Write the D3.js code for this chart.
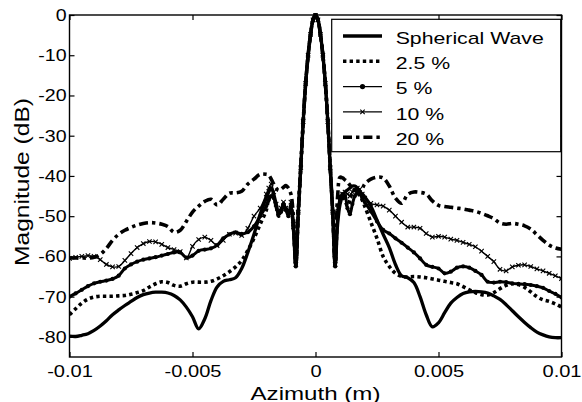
<!DOCTYPE html>
<html><head><meta charset="utf-8">
<script src="https://cdn.jsdelivr.net/npm/d3@7"></script>
<style>
body{margin:0;background:#fff}
svg{display:block}
text{font-family:"Liberation Sans",Arial,Helvetica,sans-serif;fill:#000}
</style>
</head><body>
<svg id="chart" width="582" height="402"></svg>
<script>
// ---------- data ----------
const azimuth = [
 -0.01,-0.00975,-0.0095,-0.00925,-0.009,-0.00875,-0.0085,-0.00825,-0.008,-0.00775,-0.0075,-0.00725,-0.007,-0.00675,-0.0065,-0.00625,-0.006,-0.00575,-0.0055,-0.00525,-0.005,-0.00475,-0.0045,-0.00425,-0.004,-0.00375,-0.0035,-0.00325,-0.003,-0.00275,-0.0025,-0.00225,-0.002,
 -0.0019,-0.0018,-0.0017,-0.0016,-0.0015,-0.0014,-0.0013,-0.0012,-0.0011,-0.001,-0.0009,-0.0008,
 -0.0007,-0.0006,-0.0005,-0.0004,-0.0003,-0.0002,-0.0001,0,0.0001,0.0002,0.0003,0.0004,0.0005,0.0006,0.0007,
 0.0008,0.0009,0.001,0.0011,0.0012,0.0013,0.0014,0.0015,0.0016,0.0017,0.0018,0.0019,
 0.002,0.00225,0.0025,0.00275,0.003,0.00325,0.0035,0.00375,0.004,0.00425,0.0045,0.00475,0.005,0.00525,0.0055,0.00575,0.006,0.00625,0.0065,0.00675,0.007,0.00725,0.0075,0.00775,0.008,0.00825,0.0085,0.00875,0.009,0.00925,0.0095,0.00975,0.01
];
const sphericalWave = [
 -79.8,-79.9,-79.6,-79.2,-78.4,-77.3,-76,-74.5,-73.3,-72.2,-71.2,-70.2,-69.5,-69.1,-68.9,-68.9,-69.1,-69.7,-70.8,-72.6,-75,-78,-75.5,-71,-67.6,-66.2,-65.8,-65.3,-63,-59,-54.5,-49.5,-45.5,
 -44,-43,-44.5,-47,-49.5,-49,-47.5,-48,-49,-48,-53,-62.5,
 -49,-38,-26.5,-17,-10,-4.8,-1.2,0,-1.2,-4.8,-10,-17,-26.5,-38,-49,
 -62.5,-52,-47,-45,-44,-43.5,-43,-42.5,-42.5,-43,-44,-44.5,
 -45.2,-47.5,-51,-54.5,-57.8,-62,-64.8,-65.3,-66.5,-70,-74.5,-77.5,-76.5,-74,-71.6,-70.2,-69.2,-68.8,-68.7,-68.8,-69.1,-69.8,-70.7,-72,-73.5,-75,-76.4,-77.7,-78.8,-79.5,-80,-80.2,-80.2
];
const error2p5 = [
 -74.5,-73,-71.6,-70.6,-70.1,-69.9,-69.9,-69.9,-69.8,-69.7,-69.4,-69,-68.5,-67.6,-66.8,-66.3,-66.5,-67.2,-67.4,-66.8,-66.4,-66.4,-66.4,-66.2,-65.6,-64.8,-63.8,-62.6,-61,-58.5,-55.5,-52,-48.5,
 -45.5,-44.5,-45.5,-47.5,-50,-49,-47,-48.5,-49.5,-47.5,-52.5,-62,
 -49,-38,-26.5,-17,-10,-4.8,-1.2,0,-1.2,-4.8,-10,-17,-26.5,-38,-49,
 -62,-50,-46,-45,-46,-47.5,-46,-44,-43.5,-44,-45,-46,
 -47.5,-51.5,-55.5,-60,-62.5,-64.2,-65,-65.1,-65,-65.1,-65.3,-65.6,-65.9,-66.2,-66.5,-66.8,-67.5,-68.3,-69,-69.5,-69.6,-69,-68,-67.2,-66.8,-67,-67.7,-68.8,-70,-70.8,-71.2,-71.8,-72.6
];
const error5 = [
 -70,-69.2,-68.3,-67.4,-66.7,-66.3,-66,-65.6,-64.8,-63,-62,-61.3,-60.8,-60.5,-60.2,-59.8,-59.4,-59,-59,-60.3,-59.8,-58.6,-58.3,-58,-57.2,-55.5,-54.5,-54,-54.4,-54,-52.5,-50,-47.5,
 -46,-45,-45.5,-47.5,-49.5,-48.5,-47,-48.5,-50,-47.5,-53,-62.5,
 -49,-38,-26.5,-17,-10,-4.8,-1.2,0,-1.2,-4.8,-10,-17,-26.5,-38,-49,
 -62.5,-50,-46,-44.5,-45,-48,-49.5,-47,-45,-44.3,-44.5,-45.5,
 -46.5,-48.8,-51.3,-53.4,-54.3,-55.5,-56.6,-57.8,-59,-60.5,-62.1,-62.6,-63,-64.2,-63.8,-62.8,-62.5,-62.8,-63.6,-64.6,-66.3,-66.5,-66.3,-66.4,-66.7,-66.8,-66.9,-67.1,-67.4,-67.8,-68.6,-69.3,-70.2
];
const error10 = [
 -60.5,-60.2,-60,-59.8,-60,-60.8,-62,-62.6,-62.5,-61,-59.3,-57.8,-56.8,-56.3,-56.4,-57,-57.8,-58.3,-58.8,-60.4,-57.5,-55.8,-55.2,-56,-57.3,-56,-54.5,-54.2,-54.8,-53,-50,-48,-44.5,
 -43,-42,-44,-47,-49,-48,-46.5,-48,-49,-46.5,-52,-62,
 -49,-38,-26.5,-17,-10,-4.8,-1.2,0,-1.2,-4.8,-10,-17,-26.5,-38,-49,
 -62,-48,-45,-44.5,-44,-44.5,-45,-44,-43.5,-43,-43.3,-44.5,
 -45.5,-46.8,-47.2,-47.5,-48.5,-50,-51.5,-52.7,-52.7,-53,-54.3,-55.2,-55,-55.2,-55.7,-56,-56.5,-57,-57.6,-58.7,-60,-61.3,-63.2,-63.6,-62.6,-62.2,-62.1,-62.5,-63.1,-63.6,-64.2,-64.8,-65.5
];
const error20 = [
 -60.4,-60.4,-60.4,-60.4,-60.2,-59.5,-58,-56,-54.5,-53.5,-52.8,-52.2,-51.8,-51.6,-51.7,-52,-52.6,-54,-53.5,-51.3,-49,-47.5,-46.3,-45.8,-47.2,-45.8,-44.3,-44.2,-43.8,-42,-40.8,-39.6,-39.6,
 -39.8,-40.8,-42,-43,-43.6,-43.3,-42.8,-42.4,-43,-44.5,-50,-62,
 -49,-38,-26.5,-17,-10,-4.8,-1.2,0,-1.2,-4.8,-10,-17,-26.5,-38,-49,
 -62,-45,-40.3,-40.5,-41,-41.5,-42.3,-43,-43.5,-44,-44,-43.2,
 -42,-40.8,-40.3,-40.5,-42.5,-45.5,-46.8,-44.6,-44,-44.1,-44.5,-46.2,-47.3,-47.6,-47.8,-48,-48.2,-48.5,-48.8,-49.3,-49.9,-50.6,-51.7,-52,-51.8,-52,-52.4,-53.2,-54.6,-56,-57.2,-57.9,-58.2
];
const seriesNames = ["Spherical Wave", "2.5 %", "5 %", "10 %", "20 %"];
const xTickValues = [-0.01, -0.005, 0, 0.005, 0.01];
const xTickLabels = ["-0.01", "-0.005", "0", "0.005", "0.01"];
const yTickValues = [0, -10, -20, -30, -40, -50, -60, -70, -80];
const yTickLabels = ["0", "-10", "-20", "-30", "-40", "-50", "-60", "-70", "-80"];
const xTitle = "Azimuth (m)";
const yTitle = "Magnitude (dB)";

// ---------- styles ----------
const seriesValues = [sphericalWave, error2p5, error5, error10, error20];
const styles = [
  {w: 3.3, dash: null, marker: null},
  {w: 3.6, dash: "3.4,3.2", marker: null},
  {w: 3.0, dash: null, marker: "dot"},
  {w: 1.4, dash: null, marker: "cross"},
  {w: 3.6, dash: "9,4,3.4,4", marker: null}
];

const svg = d3.select("#chart");
const L = 69.5, R = 561.5, T = 15, B = 357;
const x = d3.scaleLinear().domain([-0.01, 0.01]).range([L, R]);
const y = d3.scaleLinear().domain([-85, 0]).range([B, T]);

function stretch(sel, f) {
  sel.each(function () {
    const w = this.getComputedTextLength();
    this.setAttribute("textLength", w * f);
    this.setAttribute("lengthAdjust", "spacingAndGlyphs");
  });
}

svg.append("defs").append("clipPath").attr("id", "clip")
  .append("rect").attr("x", L).attr("y", T - 2).attr("width", R - L).attr("height", B - T + 2);

// curves
const plot = svg.append("g").attr("clip-path", "url(#clip)");
const line = d3.line().x(d => x(d[0])).y(d => y(d[1])).curve(d3.curveCatmullRom.alpha(0.5));
const drawOrder = [4, 3, 2, 1, 0];
drawOrder.forEach(i => {
  const pts = azimuth.map((a, k) => [a, seriesValues[i][k]]);
  const st = styles[i];
  plot.append("path").datum(pts)
    .attr("d", line).attr("fill", "none").attr("stroke", "#000")
    .attr("stroke-width", st.w)
    .attr("stroke-dasharray", st.dash)
    .attr("stroke-linejoin", "round");
  if (st.marker === "dot") {
    plot.append("g").selectAll("circle").data(pts).join("circle")
      .attr("cx", d => x(d[0])).attr("cy", d => y(d[1])).attr("r", 2.1).attr("fill", "#000");
  } else if (st.marker === "cross") {
    plot.append("g").selectAll("path").data(pts).join("path")
      .attr("d", d => { const cx = x(d[0]), cy = y(d[1]), s = 2.2;
        return `M${cx - s},${cy - s}L${cx + s},${cy + s}M${cx - s},${cy + s}L${cx + s},${cy - s}`; })
      .attr("stroke", "#000").attr("stroke-width", 1.1);
  }
});

// axes (inward ticks on all sides)
const gx = svg.append("g").attr("transform", `translate(0,${B})`)
  .call(d3.axisBottom(x).tickValues(xTickValues).tickFormat((d, i) => xTickLabels[i]).tickSize(-5).tickPadding(8));
const gy = svg.append("g").attr("transform", `translate(${L},0)`)
  .call(d3.axisLeft(y).tickValues(yTickValues).tickFormat((d, i) => yTickLabels[i]).tickSize(-5).tickPadding(3));
const gt = svg.append("g").attr("transform", `translate(0,${T})`)
  .call(d3.axisTop(x).tickValues(xTickValues).tickFormat("").tickSize(-5));
const gr = svg.append("g").attr("transform", `translate(${R},0)`)
  .call(d3.axisRight(y).tickValues(yTickValues).tickFormat("").tickSize(-5));
[gx, gy, gt, gr].forEach(g => {
  g.select(".domain").remove();
  g.selectAll(".tick line").attr("stroke", "#000").attr("stroke-width", 1.2);
  g.selectAll("text").attr("font-family", null).style("font-size", "17px").attr("fill", "#000");
});
stretch(gx.selectAll("text"), 1.18);
stretch(gy.selectAll("text"), 1.15);

svg.append("rect").attr("x", L).attr("y", T).attr("width", R - L).attr("height", B - T)
  .attr("fill", "none").attr("stroke", "#000").attr("stroke-width", 1.4);

// titles
const xt = svg.append("text").attr("x", (L + R) / 2).attr("y", 399.5).attr("text-anchor", "middle")
  .style("font-size", "19px").text(xTitle);
stretch(xt, 1.27);
const yt = svg.append("text").attr("transform", "translate(29,182) rotate(-90)").attr("text-anchor", "middle")
  .style("font-size", "21px").text(yTitle);
stretch(yt, 1.17);

// legend
const lg = svg.append("g");
lg.append("rect").attr("x", 331.7).attr("y", 19.3).attr("width", 229).attr("height", 132.4)
  .attr("fill", "#fff").attr("stroke", "#000").attr("stroke-width", 1.2);
seriesNames.forEach((name, i) => {
  const ly = 36 + 25.3 * i;
  const st = styles[i];
  const lw = st.marker ? 1.3 : st.w;
  lg.append("line").attr("x1", 343).attr("x2", 382).attr("y1", ly).attr("y2", ly)
    .attr("stroke", "#000").attr("stroke-width", lw).attr("stroke-dasharray", st.dash);
  if (st.marker === "dot") {
    lg.append("circle").attr("cx", 362.5).attr("cy", ly).attr("r", 2.6).attr("fill", "#000");
  } else if (st.marker === "cross") {
    const s = 2.2;
    lg.append("path").attr("d", `M${362.5 - s},${ly - s}L${362.5 + s},${ly + s}M${362.5 - s},${ly + s}L${362.5 + s},${ly - s}`)
      .attr("stroke", "#000").attr("stroke-width", 1.1);
  }
  const t = lg.append("text").attr("x", 395.7).attr("y", ly + 7.8).style("font-size", "17px").text(name);
  stretch(t, 1.25);
});
</script>
</body></html>
